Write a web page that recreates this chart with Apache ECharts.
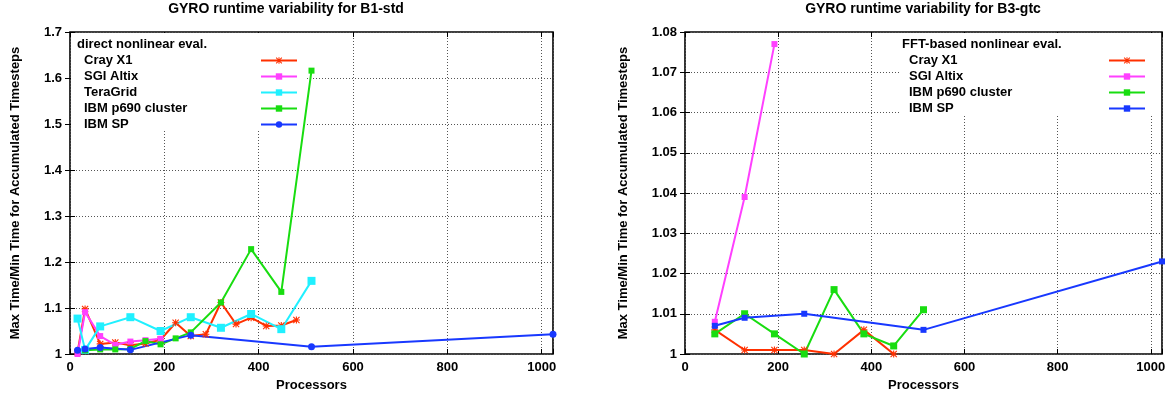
<!DOCTYPE html>
<html>
<head>
<meta charset="utf-8">
<script src="https://cdn.jsdelivr.net/npm/echarts@6/dist/echarts.min.js"></script>
<style>
  html, body { margin: 0; padding: 0; background: #fff; }
  #chart { width: 1169px; height: 398px; }
</style>
</head>
<body>
<div id="chart"></div>
<script>
// B1-std, direct nonlinear eval.
const b1CrayX = [16, 32, 64, 96, 128, 160, 192, 224, 256, 288, 320, 352, 384, 416, 448, 480];
const b1CrayY = [1.004, 1.098, 1.022, 1.025, 1.019, 1.023, 1.031, 1.068, 1.039, 1.043, 1.112, 1.065, 1.079, 1.061, 1.062, 1.074];
const b1AltixX = [16, 32, 64, 96, 128, 160, 192];
const b1AltixY = [1.0, 1.091, 1.039, 1.020, 1.027, 1.030, 1.033];
const b1TeraX = [16, 32, 64, 128, 192, 256, 320, 384, 448, 512];
const b1TeraY = [1.077, 1.009, 1.060, 1.080, 1.050, 1.080, 1.057, 1.087, 1.054, 1.159];
const b1P690X = [32, 64, 96, 128, 160, 192, 224, 256, 320, 384, 448, 512];
const b1P690Y = [1.008, 1.010, 1.010, 1.011, 1.028, 1.021, 1.034, 1.047, 1.112, 1.228, 1.135, 1.616];
const b1SpX = [16, 32, 64, 128, 256, 512, 1024];
const b1SpY = [1.008, 1.011, 1.014, 1.009, 1.041, 1.016, 1.043];

// B3-gtc, FFT-based nonlinear eval.
const b3CrayX = [64, 128, 192, 256, 320, 384, 448];
const b3CrayY = [1.006, 1.001, 1.001, 1.001, 1.000, 1.006, 1.000];
const b3AltixX = [64, 128, 192];
const b3AltixY = [1.008, 1.039, 1.077];
const b3P690X = [64, 128, 192, 256, 320, 384, 448, 512];
const b3P690Y = [1.005, 1.010, 1.005, 1.000, 1.016, 1.005, 1.002, 1.011];
const b3SpX = [64, 128, 256, 512, 1024];
const b3SpY = [1.007, 1.009, 1.010, 1.006, 1.023];

const titles = ['GYRO runtime variability for B1-std', 'GYRO runtime variability for B3-gtc'];
const keyTitles = ['direct nonlinear eval.', 'FFT-based nonlinear eval.'];
const xName = 'Processors';
const yName = 'Max Time/Min Time for Accumulated Timesteps';

const FONT = '"Liberation Sans", Arial, Helvetica, sans-serif';
const colors = {
  cray: '#ff3000',
  altix: '#ff40ff',
  tera: '#20f0ff',
  p690: '#18dd10',
  sp: '#1838ff',
};
// asterisk marker like gnuplot's
const starPath = 'path://M4.2,0 L5.8,0 L5.8,10 L4.2,10 Z M0,4.2 L10,4.2 L10,5.8 L0,5.8 Z M1.1,0 L10,8.9 L8.9,10 L0,1.1 Z M8.9,0 L10,1.1 L1.1,10 L0,8.9 Z';

const zip = (xs, ys) => xs.map((x, i) => [x, ys[i]]);

const chart = echarts.init(document.getElementById('chart'));

const grids = [
  { left: 70, top: 32, width: 483, height: 322 },
  { left: 685, top: 32, width: 477, height: 322 },
];

function xAxes(gi) {
  return [
    {
      type: 'value', gridIndex: gi, position: 'bottom', min: 0, max: 1024, interval: 200,
      name: xName, nameLocation: 'middle', nameGap: 23,
      nameTextStyle: { fontFamily: FONT, fontWeight: 'bold', fontSize: 13, color: '#000' },
      axisLine: { show: false },
      axisTick: { inside: true, length: 5, lineStyle: { color: '#000' } },
      axisLabel: {
        margin: 7, fontFamily: FONT, fontWeight: 'bold', fontSize: 13, color: '#000',
        formatter: (v) => (v % 200 === 0 ? String(v) : ''),
      },
      splitLine: { show: true, lineStyle: { color: '#555', type: [1, 2], width: 1 } },
    },
    {
      type: 'value', gridIndex: gi, position: 'top', min: 0, max: 1024, interval: 200,
      axisLine: { show: false },
      axisTick: { inside: true, length: 5, lineStyle: { color: '#000' } },
      axisLabel: { show: false },
      splitLine: { show: false },
    },
  ];
}

function yAxes(gi, max, interval, gap) {
  return [
    {
      type: 'value', gridIndex: gi, position: 'left', min: 1, max: max, interval: interval,
      name: yName, nameLocation: 'middle', nameGap: gap,
      nameTextStyle: { fontFamily: FONT, fontWeight: 'bold', fontSize: 13, color: '#000' },
      axisLine: { show: false },
      axisTick: { inside: true, length: 5, lineStyle: { color: '#000' } },
      axisLabel: { margin: 8, fontFamily: FONT, fontWeight: 'bold', fontSize: 13, color: '#000' },
      splitLine: { show: true, lineStyle: { color: '#555', type: [1, 2], width: 1 } },
    },
    {
      type: 'value', gridIndex: gi, position: 'right', min: 1, max: max, interval: interval,
      axisLine: { show: false },
      axisTick: { inside: true, length: 5, lineStyle: { color: '#000' } },
      axisLabel: { show: false },
      splitLine: { show: false },
    },
  ];
}

function line(name, gi, xs, ys, color, symbol, size) {
  return {
    name: name,
    type: 'line',
    xAxisIndex: gi * 2,
    yAxisIndex: gi * 2,
    data: zip(xs, ys),
    symbol: symbol,
    symbolSize: size,
    showAllSymbol: true,
    lineStyle: { color: color, width: 2 },
    itemStyle: { color: color },
    emphasis: { disabled: true },
    z: 3,
  };
}

function key(gi, names, left, top, textWidth) {
  return {
    show: true,
    data: names,
    orient: 'vertical',
    align: 'right',
    left: left,
    top: top,
    itemWidth: 36,
    itemHeight: 8,
    itemGap: 3,
    selectedMode: false,
    formatter: (n) => '{n|' + n.replace(/^B\d: /, '') + '}',
    textStyle: {
      rich: {
        n: { width: textWidth, align: 'left', fontFamily: FONT, fontWeight: 'bold', fontSize: 13, color: '#000' },
      },
    },
  };
}

const option = {
  animation: false,
  backgroundColor: '#fff',
  grid: grids.map((g) => ({ ...g, show: true, borderColor: '#000', borderWidth: 1.6, backgroundColor: 'transparent' })),
  xAxis: [...xAxes(0), ...xAxes(1)],
  yAxis: [...yAxes(0, 1.7, 0.1, 48), ...yAxes(1, 1.08, 0.01, 55)],
  legend: [
    key(0, ['B1: Cray X1', 'B1: SGI Altix', 'B1: TeraGrid', 'B1: IBM p690 cluster', 'B1: IBM SP'], 79, 49, 172),
    key(1, ['B3: Cray X1', 'B3: SGI Altix', 'B3: IBM p690 cluster', 'B3: IBM SP'], 904, 49, 195),
  ],
  graphic: [
    { type: 'text', x: 286, y: 9, z: 10, style: { text: titles[0], font: 'bold 14px ' + FONT, fill: '#000', textAlign: 'center', textVerticalAlign: 'middle' } },
    { type: 'text', x: 923, y: 9, z: 10, style: { text: titles[1], font: 'bold 14px ' + FONT, fill: '#000', textAlign: 'center', textVerticalAlign: 'middle' } },
    // opaque key boxes hide the grid like gnuplot does
    { type: 'rect', x: 71, y: 33, z: 1, shape: { width: 234, height: 98 }, style: { fill: '#fff' } },
    { type: 'rect', x: 899, y: 33, z: 1, shape: { width: 262, height: 82 }, style: { fill: '#fff' } },
    { type: 'text', x: 77, y: 44, z: 10, style: { text: keyTitles[0], font: 'bold 13px ' + FONT, fill: '#000', textAlign: 'left', textVerticalAlign: 'middle' } },
    { type: 'text', x: 902, y: 44, z: 10, style: { text: keyTitles[1], font: 'bold 13px ' + FONT, fill: '#000', textAlign: 'left', textVerticalAlign: 'middle' } },
  ],
  series: [
    line('B1: Cray X1', 0, b1CrayX, b1CrayY, colors.cray, starPath, 7),
    line('B1: SGI Altix', 0, b1AltixX, b1AltixY, colors.altix, 'rect', 6),
    line('B1: TeraGrid', 0, b1TeraX, b1TeraY, colors.tera, 'rect', 8),
    line('B1: IBM p690 cluster', 0, b1P690X, b1P690Y, colors.p690, 'rect', 6),
    line('B1: IBM SP', 0, b1SpX, b1SpY, colors.sp, 'circle', 7),
    line('B3: Cray X1', 1, b3CrayX, b3CrayY, colors.cray, starPath, 7),
    line('B3: SGI Altix', 1, b3AltixX, b3AltixY, colors.altix, 'rect', 6),
    line('B3: IBM p690 cluster', 1, b3P690X, b3P690Y, colors.p690, 'rect', 7),
    line('B3: IBM SP', 1, b3SpX, b3SpY, colors.sp, 'rect', 6),
  ],
};

chart.setOption(option);
</script>
</body>
</html>
